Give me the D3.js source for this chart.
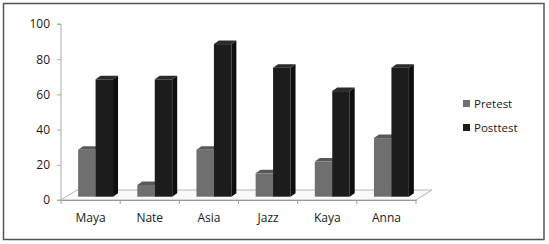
<!DOCTYPE html>
<html>
<head>
<meta charset="utf-8">
<script src="https://cdn.jsdelivr.net/npm/d3@7"></script>
<style>
  body { margin: 0; background: #fff; }
  text { font-family: "Open Sans", sans-serif; fill: #1a1a1a; }
</style>
</head>
<body>
<div id="chart"></div>
<script>
var categories = ["Maya", "Nate", "Asia", "Jazz", "Kaya", "Anna"];
var pretest = [26.7, 6.7, 26.7, 13.3, 20, 33.3];
var posttest = [66.7, 66.7, 86.7, 73.3, 60, 73.3];
var seriesNames = ["Pretest", "Posttest"];
var yTicks = [0, 20, 40, 60, 80, 100];

var width = 549, height = 244;

var svg = d3.select("#chart")
    .append("svg")
    .attr("width", width)
    .attr("height", height);

// frame
svg.append("rect")
    .attr("x", 3.5).attr("y", 3.5)
    .attr("width", 540.5).attr("height", 236)
    .attr("fill", "#fff")
    .attr("stroke", "#555")
    .attr("stroke-width", 1.5);

var x = d3.scaleBand()
    .domain(categories)
    .range([61, 416]);

var y = d3.scaleLinear()
    .domain([0, 100])
    .range([200, 24]);

// floor depth and bar depth (oblique projection)
var floorDx = 16, floorDy = -10;
var offX = 5, offY = -3.3;   // bar front face sits a bit behind floor front
var barDx = 5, barDy = -3.5;

var colors = {
    Pretest: { front: "#6f6f6f", top: "#585858", side: "#4e4e4e" },
    Posttest: { front: "#1c1c1c", top: "#2b2b2b", side: "#0e0e0e" }
};

// floor
svg.append("polygon")
    .attr("points", [
        [x.range()[0], y(0)],
        [x.range()[0] + floorDx, y(0) + floorDy],
        [x.range()[1] + floorDx, y(0) + floorDy],
        [x.range()[1], y(0)]
    ].map(function(p) { return p.join(","); }).join(" "))
    .attr("fill", "#fafafa")
    .attr("stroke", "#b5b5b5")
    .attr("stroke-width", 1);

// y axis
var yAxis = svg.append("g")
    .attr("transform", "translate(61,0)")
    .call(d3.axisLeft(y).tickValues(yTicks).tickSize(4).tickPadding(7));
yAxis.select(".domain").attr("stroke", "#aaa").attr("d", "M-4," + y(100) + "H0V" + y(0) + "H-4");
yAxis.selectAll(".tick line").attr("stroke", "#aaa");
yAxis.selectAll(".tick text")
    .style("font-size", "12px")
    .attr("fill", "#1a1a1a");

// x axis
var xAxis = svg.append("g")
    .attr("transform", "translate(0," + y(0) + ")")
    .call(d3.axisBottom(x).tickSize(0).tickPadding(13));
xAxis.select(".domain").attr("stroke", "#999");
xAxis.selectAll(".tick text")
    .style("font-size", "12px")
    .attr("fill", "#1a1a1a");

// category separator ticks
svg.append("g")
    .selectAll("line")
    .data(categories.concat(["end"]))
    .enter()
    .append("line")
    .attr("x1", function(d, i) { return x.range()[0] + i * x.step(); })
    .attr("x2", function(d, i) { return x.range()[0] + i * x.step(); })
    .attr("y1", y(0))
    .attr("y2", y(0) + 4)
    .attr("stroke", "#999");

var groupW = x.bandwidth() * 0.59;
var barW = groupW / 2;

var bars = [];
categories.forEach(function(c, i) {
    bars.push({ cat: c, series: "Pretest", value: pretest[i], k: 0 });
    bars.push({ cat: c, series: "Posttest", value: posttest[i], k: 1 });
});

function pts(arr) {
    return arr.map(function(p) { return p.join(","); }).join(" ");
}

var barG = svg.append("g")
    .selectAll("g")
    .data(bars)
    .enter()
    .append("g");

function geom(d) {
    var x0 = x(d.cat) + (x.bandwidth() - groupW) / 2 + d.k * barW + offX;
    var x1 = x0 + barW;
    var yt = y(d.value) + offY;
    var yb = y(0) + offY;
    return { x0: x0, x1: x1, yt: yt, yb: yb };
}

barG.append("polygon")
    .attr("points", function(d) {
        var g = geom(d);
        return pts([[g.x1, g.yt], [g.x1 + barDx, g.yt + barDy], [g.x1 + barDx, g.yb + barDy], [g.x1, g.yb]]);
    })
    .attr("fill", function(d) { return colors[d.series].side; });

barG.append("polygon")
    .attr("points", function(d) {
        var g = geom(d);
        return pts([[g.x0, g.yt], [g.x0 + barDx, g.yt + barDy], [g.x1 + barDx, g.yt + barDy], [g.x1, g.yt]]);
    })
    .attr("fill", function(d) { return colors[d.series].top; });

barG.append("rect")
    .attr("x", function(d) { return geom(d).x0; })
    .attr("y", function(d) { return geom(d).yt; })
    .attr("width", barW)
    .attr("height", function(d) { var g = geom(d); return g.yb - g.yt; })
    .attr("fill", function(d) { return colors[d.series].front; });

// legend
var legend = svg.append("g")
    .selectAll("g")
    .data(seriesNames)
    .enter()
    .append("g")
    .attr("transform", function(d, i) { return "translate(463," + (100 + i * 24) + ")"; });

legend.append("rect")
    .attr("width", 7)
    .attr("height", 7)
    .attr("fill", function(d) { return colors[d].front; });

legend.append("text")
    .attr("x", 11)
    .attr("y", 7.5)
    .style("font-size", "11.5px")
    .text(function(d) { return d; });
</script>
</body>
</html>
